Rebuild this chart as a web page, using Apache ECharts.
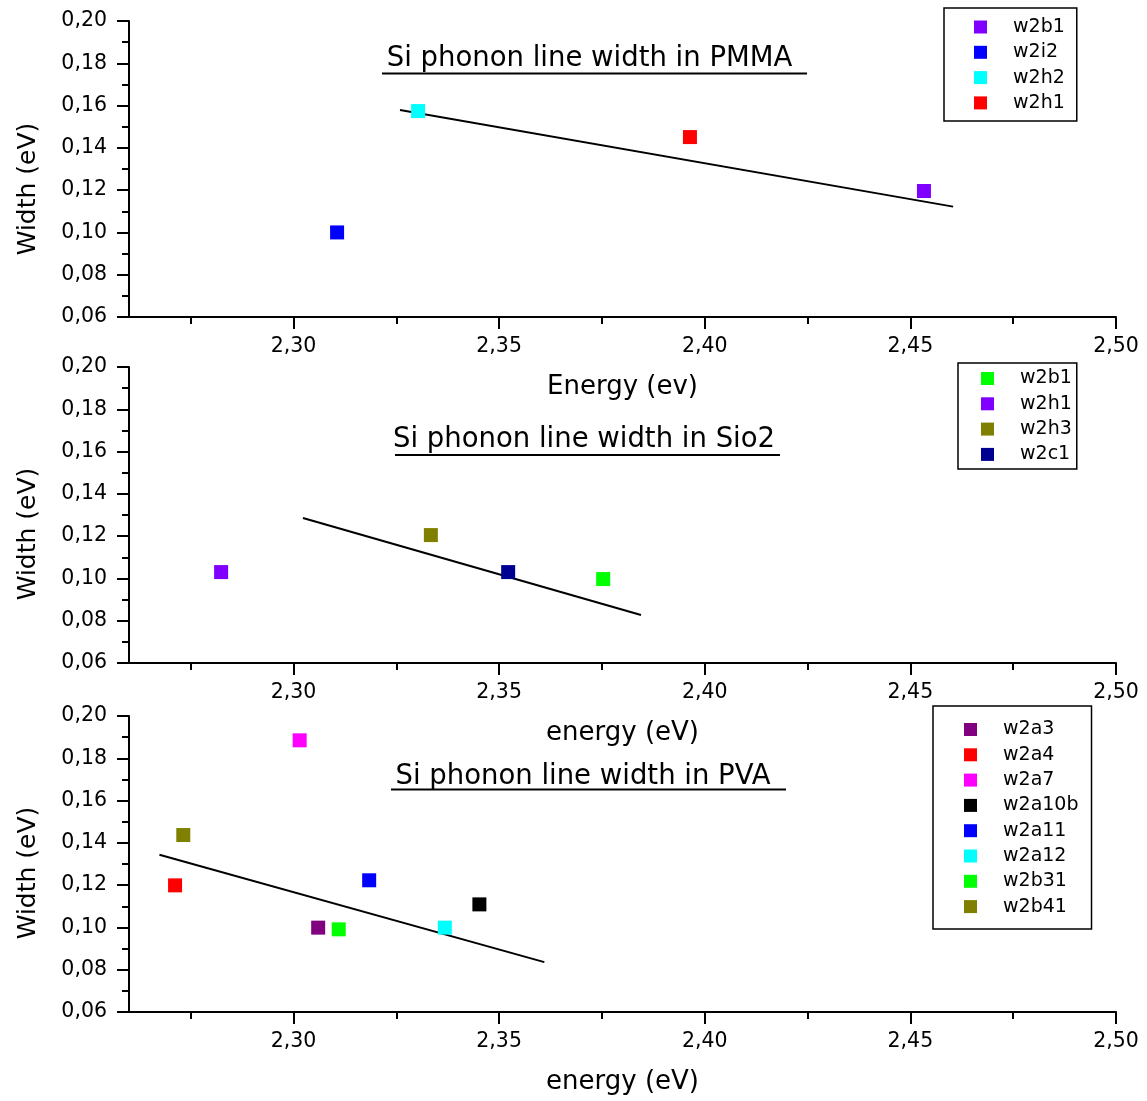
<!DOCTYPE html>
<html><head><meta charset="utf-8">
<script src="https://cdn.jsdelivr.net/npm/echarts@6/dist/echarts.min.js"></script>
<style>html,body{margin:0;padding:0;background:#fff}#c{width:1147px;height:1101px}</style>
</head><body><div id="c"></div>
<script>
// ---- tick values ----
const xMajorTicks = [2.30, 2.35, 2.40, 2.45, 2.50];
const xMinorTicks = [2.275, 2.325, 2.375, 2.425, 2.475];
const yMajorTicks = [0.06, 0.08, 0.10, 0.12, 0.14, 0.16, 0.18, 0.20];
const yMinorTicks = [0.07, 0.09, 0.11, 0.13, 0.15, 0.17, 0.19];

// ---- PMMA panel ----
const pmmaNames  = ['w2b1', 'w2i2', 'w2h2', 'w2h1'];
const pmmaEnergy = [2.4533, 2.3106, 2.3303, 2.3964];
const pmmaWidth  = [0.1196, 0.1000, 0.1574, 0.1451];
const pmmaFitX   = [2.3259, 2.4604];
const pmmaFitY   = [0.1579, 0.1122];

// ---- SiO2 panel ----
const sioNames  = ['w2b1', 'w2h1', 'w2h3', 'w2c1'];
const sioEnergy = [2.3753, 2.2824, 2.3334, 2.3522];
const sioWidth  = [0.0997, 0.1030, 0.1205, 0.1030];
const sioFitX   = [2.3023, 2.3845];
const sioFitY   = [0.1286, 0.0827];

// ---- PVA panel ----
const pvaNames  = ['w2a3', 'w2a4', 'w2a7', 'w2a10b', 'w2a11', 'w2a12', 'w2b31', 'w2b41'];
const pvaEnergy = [2.3060, 2.2712, 2.3015, 2.3452, 2.3184, 2.3368, 2.3110, 2.2732];
const pvaWidth  = [0.0999, 0.1199, 0.1885, 0.1109, 0.1223, 0.0999, 0.0991, 0.1437];
const pvaFitX   = [2.2674, 2.3610];
const pvaFitY   = [0.1344, 0.0836];

// ---- styles ----
const pmmaColors = ['#8000ff', '#0000ff', '#00ffff', '#ff0000'];
const sioColors  = ['#00ff00', '#8000ff', '#808000', '#000090'];
const pvaColors  = ['#800080', '#ff0000', '#ff00ff', '#000000', '#0000ff', '#00ffff', '#00ff00', '#808000'];

const FONT = 'DejaVu Sans';
const fmt = v => Number(v).toFixed(2).replace('.', ',');

const panels = [
  { title: 'Si phonon line width in PMMA', xName: 'Energy (ev)', names: pmmaNames, ex: pmmaEnergy, wy: pmmaWidth,
    fx: pmmaFitX, fy: pmmaFitY, colors: pmmaColors, top: 21, yTitleY: 189, titleX: 589.5, titleY: 59, ul: [382, 807, 73.5],
    legend: { left: 944, top: 8, padding: [9.5, 12, 8.5, 30] } },
  { title: 'Si phonon line width in Sio2', xName: 'energy (eV)', names: sioNames, ex: sioEnergy, wy: sioWidth,
    fx: sioFitX, fy: sioFitY, colors: sioColors, top: 367, yTitleY: 534, titleX: 584, titleY: 440, ul: [395, 780, 455],
    legend: { left: 958, top: 363, padding: [6, 5, 5, 23] } },
  { title: 'Si phonon line width in PVA', xName: 'energy (eV)', names: pvaNames, ex: pvaEnergy, wy: pvaWidth,
    fx: pvaFitX, fy: pvaFitY, colors: pvaColors, top: 716, yTitleY: 873, titleX: 583, titleY: 777, ul: [391, 786, 789.5],
    legend: { left: 933, top: 706, padding: [14, 13, 13, 31] } }
];

const grid = [], xAxis = [], yAxis = [], series = [], legend = [], graphic = [];
const lineSt = { color: '#000', width: 2 };
const labelSt = { fontFamily: FONT, fontSize: 20.5, color: '#000' };

panels.forEach((p, i) => {
  grid.push({ left: 129, width: 987, top: p.top, height: 296 });
  xAxis.push({
    gridIndex: i, type: 'value', min: 2.26, max: 2.50, position: 'bottom',
    axisLine: { show: true, onZero: false, lineStyle: lineSt },
    axisTick: { show: true, customValues: xMajorTicks, length: 12, lineStyle: lineSt },
    axisLabel: Object.assign({ customValues: xMajorTicks, formatter: fmt, margin: 19 }, labelSt),
    splitLine: { show: false },
    name: p.xName, nameLocation: 'middle', nameGap: 57,
    nameTextStyle: { fontFamily: FONT, fontSize: 26, color: '#000' }
  });
  xAxis.push({
    gridIndex: i, type: 'value', min: 2.26, max: 2.50, position: 'bottom',
    axisLine: { show: false, onZero: false },
    axisTick: { show: true, customValues: xMinorTicks, length: 7, lineStyle: lineSt },
    axisLabel: { show: false }, splitLine: { show: false }
  });
  yAxis.push({
    gridIndex: i, type: 'value', min: 0.06, max: 0.20, position: 'left',
    axisLine: { show: true, onZero: false, lineStyle: lineSt },
    axisTick: { show: true, customValues: yMajorTicks, length: 12, lineStyle: lineSt },
    axisLabel: Object.assign({ customValues: yMajorTicks, formatter: fmt, margin: 22 }, labelSt),
    splitLine: { show: false }
  });
  yAxis.push({
    gridIndex: i, type: 'value', min: 0.06, max: 0.20, position: 'left',
    axisLine: { show: false, onZero: false },
    axisTick: { show: true, customValues: yMinorTicks, length: 7, lineStyle: lineSt },
    axisLabel: { show: false }, splitLine: { show: false }
  });
  series.push({
    type: 'line', xAxisIndex: 2 * i, yAxisIndex: 2 * i, showSymbol: false, symbol: 'none',
    data: p.fx.map((x, k) => [x, p.fy[k]]),
    lineStyle: { color: '#000', width: 2 }, itemStyle: { color: '#000' }, silent: true, z: 1
  });
  p.names.forEach((n, k) => {
    series.push({
      type: 'scatter', name: n, xAxisIndex: 2 * i, yAxisIndex: 2 * i,
      symbol: 'rect', symbolSize: 14, itemStyle: { color: p.colors[k], opacity: 1 },
      data: [[p.ex[k], p.wy[k]]], z: 3
    });
  });
  legend.push({
    orient: 'vertical', left: p.legend.left, top: p.legend.top, padding: p.legend.padding,
    borderColor: '#000', borderWidth: 1.5, itemWidth: 13, itemHeight: 13, itemGap: 6.3, icon: 'rect',
    selectedMode: false,
    textStyle: { fontFamily: FONT, fontSize: 19, color: '#000', padding: [0, 0, 0, 21] },
    data: p.names.map((n, k) => ({ name: n, icon: 'rect', itemStyle: { color: p.colors[k], opacity: 1 } }))
  });
  graphic.push({
    type: 'text', x: p.titleX, y: p.titleY,
    style: { text: p.title, fontFamily: FONT, fontSize: 27.5, fill: '#000', align: 'center', verticalAlign: 'middle' }
  });
  graphic.push({
    type: 'line', shape: { x1: p.ul[0], y1: p.ul[2], x2: p.ul[1], y2: p.ul[2] },
    style: { stroke: '#000', lineWidth: 2 }
  });
  graphic.push({
    type: 'text', x: 28, y: p.yTitleY, rotation: Math.PI / 2,
    style: { text: 'Width (eV)', fontFamily: FONT, fontSize: 25, fill: '#000', align: 'center', verticalAlign: 'middle' }
  });
});

const chart = echarts.init(document.getElementById('c'), null, { renderer: 'canvas' });
chart.setOption({
  backgroundColor: '#fff', animation: false,
  grid, xAxis, yAxis, series, legend, graphic
});
</script></body></html>
